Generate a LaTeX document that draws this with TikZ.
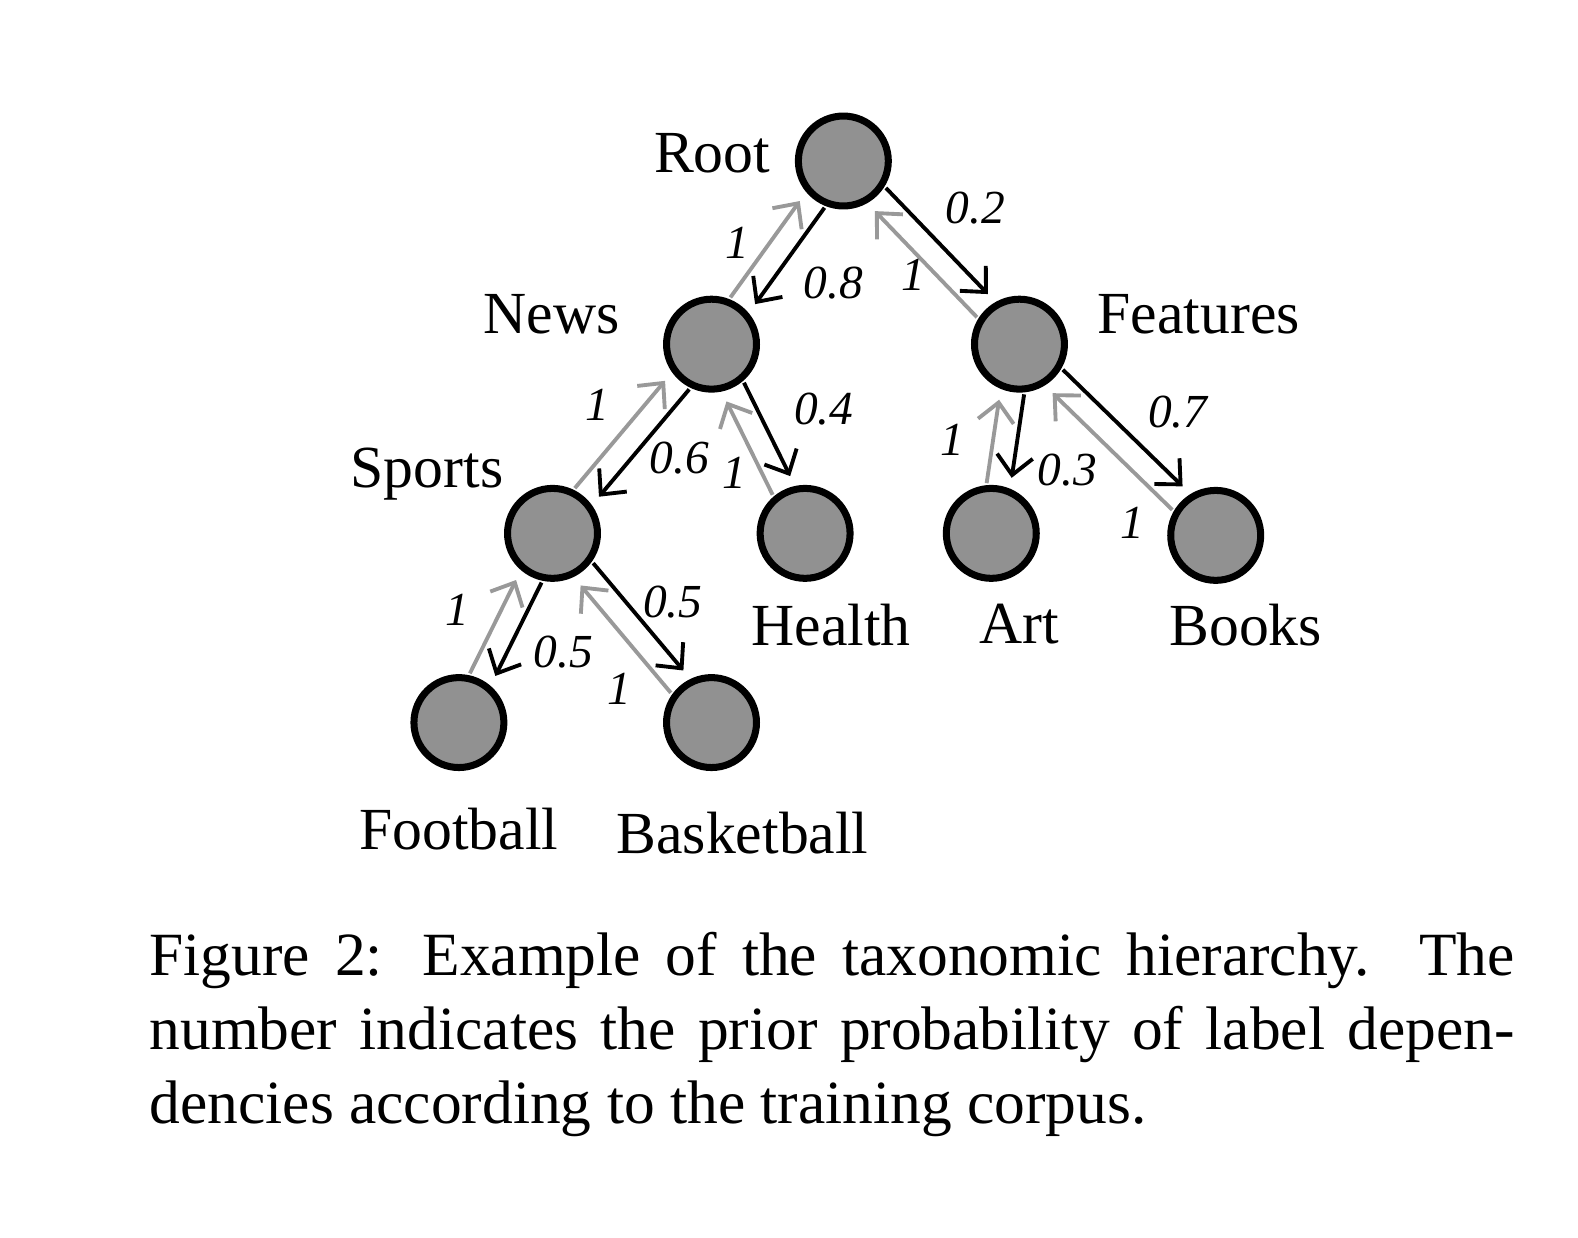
\documentclass[tikz,border=0pt]{standalone}
\usepackage{fontspec}
\setmainfont{Liberation Serif}
\usetikzlibrary{arrows.meta, calc}

\begin{document}
\begin{tikzpicture}[
  x=0.010064cm, y=-0.010064cm,
  cat/.style={circle, draw, line width=2pt, fill=black!43,
              minimum size=0.9cm, inner sep=0pt},
  tag/.style={font=\fontsize{17}{20}\selectfont, inner sep=0pt},
  prob/.style={font=\fontsize{13.5}{15}\selectfont\itshape, inner sep=3pt, auto},
  link/.style={line width=1.1pt, shorten <=0.49cm, shorten >=0.58cm,
               -{Straight Barb[length=0.19cm, width=0.36cm]},
               to path={($(\tikztostart)!0.12cm!90:(\tikztotarget)$)
                 -- ($(\tikztotarget)!0.12cm!-90:(\tikztostart)$) \tikztonodes}},
  childarr/.style={link, draw=black},
  parentarr/.style={link, draw=black!40},
  caption/.style={font=\fontsize{17.5}{21}\selectfont, inner sep=0pt,
                  anchor=base west}
]
  \useasboundingbox (0,0) rectangle (1568,1230);

  % taxonomy nodes
  \node[cat, label={[tag, label distance=0.24cm, yshift=0.08cm]left:Root}] (root) at (838,160) {};
  \node[cat, label={[tag, label distance=0.43cm, yshift=0.30cm]left:News}] (news) at (707,342) {};
  \node[cat, label={[tag, label distance=0.29cm, yshift=0.30cm]right:Features}] (features) at (1013,342) {};
  \node[cat, label={[tag, label distance=0cm, yshift=0.59cm]left:Sports}] (sports) at (549,530) {};
  \node[cat, label={[tag, label distance=0.22cm, xshift=0.26cm]below:Health}] (health) at (800,530) {};
  \node[cat, label={[tag, label distance=0.22cm, xshift=0.28cm]below:Art}] (art) at (985,530) {};
  \node[cat, label={[tag, label distance=0.20cm, xshift=0.30cm]below:Books}] (books) at (1208,532) {};
  \node[cat, label={[tag, label distance=0.36cm]below:Football}] (football) at (456,718) {};
  \node[cat, label={[tag, label distance=0.40cm, xshift=0.31cm]below:Basketball}] (basketball) at (707,718) {};

  % dependencies: parent -> child (black), child -> parent (gray)
  \draw[childarr] (root) to node[prob, pos=0.47] {0.8} (news);
  \draw[parentarr] (news) to node[prob, pos=0.40, inner sep=1pt] {1} (root);
  \draw[childarr] (root) to node[prob, pos=0.46] {0.2} (features);
  \draw[parentarr] (features) to node[prob, pos=0.54, inner sep=1pt, xshift=0.15cm] {1} (root);

  \draw[childarr] (news) to node[prob, pos=0.45, inner sep=1pt, xshift=-0.05cm] {0.6} (sports);
  \draw[parentarr] (sports) to node[prob, pos=0.49] {1} (news);
  \draw[childarr] (news) to node[prob, pos=0.56, inner sep=5pt] {0.4} (health);
  \draw[parentarr] (health) to node[prob, pos=0.46, inner sep=1pt] {1} (news);

  \draw[childarr] (features) to node[prob, pos=0.47, inner sep=5pt] {0.3} (art);
  \draw[parentarr] (art) to node[prob, pos=0.28, inner sep=6pt] {1} (features);
  \draw[childarr] (features) to node[prob, pos=0.55] {0.7} (books);
  \draw[parentarr] (books) to node[prob, pos=0.26] {1} (features);

  \draw[childarr] (sports) to node[prob, pos=0.45] {0.5} (football);
  \draw[parentarr] (football) to node[prob, pos=0.40, inner sep=4pt] {1} (sports);
  \draw[childarr] (sports) to node[prob, pos=0.50, inner sep=0pt] {0.5} (basketball);
  \draw[parentarr] (basketball) to node[prob, pos=0.37] {1} (sports);

  % caption
  \node[caption] (cap1) at (148,969)
    {\makebox[13.66cm][s]{Figure 2: Example of the taxonomic hierarchy. The}};
  \node[caption] (cap2) at (148,1043)
    {\makebox[13.66cm][s]{number indicates the prior probability of label depen-}};
  \node[caption] (cap3) at (148,1116)
    {dencies according to the training corpus.};
\end{tikzpicture}
\end{document}
